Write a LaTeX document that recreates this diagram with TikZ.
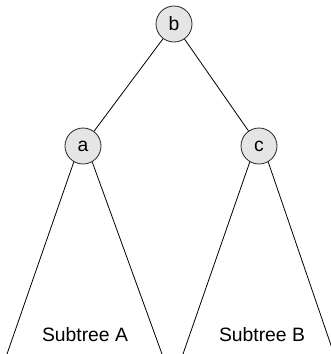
\documentclass[tikz,border=0pt]{standalone}
\usepackage{fontspec}
\setmainfont{Liberation Sans}
\begin{document}
\begin{tikzpicture}[x=0.75pt,y=-0.75pt,
  treenode/.style={circle,draw=black!85,fill=gray!20,line width=0.6pt,minimum size=27pt,inner sep=0pt,font=\fontsize{14.5}{17}\selectfont},
  edge/.style={draw=black,line width=0.6pt},
  lbl/.style={font=\fontsize{14.5}{17}\selectfont,inner sep=0pt}]
\useasboundingbox (0,0) rectangle (331,354);
\clip (0,0) rectangle (331,354);
\node[treenode] (b) at (174,24) {b};
\node[treenode] (a) at (83,146) {a};
\node[treenode] (c) at (259,146) {c};
\coordinate (aL) at (7,354);
\coordinate (aR) at (162,354);
\coordinate (cL) at (183,354);
\coordinate (cR) at (334,354);
\draw[edge] (b) -- (a);
\draw[edge] (b) -- (c);
\draw[edge] (a.240) -- (aL);
\draw[edge] (a.300) -- (aR);
\draw[edge] (c.240) -- (cL);
\draw[edge] (c.300) -- (cR);
\node[lbl] (sa) at (85,334.5) {Subtree A};
\node[lbl] (sb) at (262,334.5) {Subtree B};
\end{tikzpicture}
\end{document}
